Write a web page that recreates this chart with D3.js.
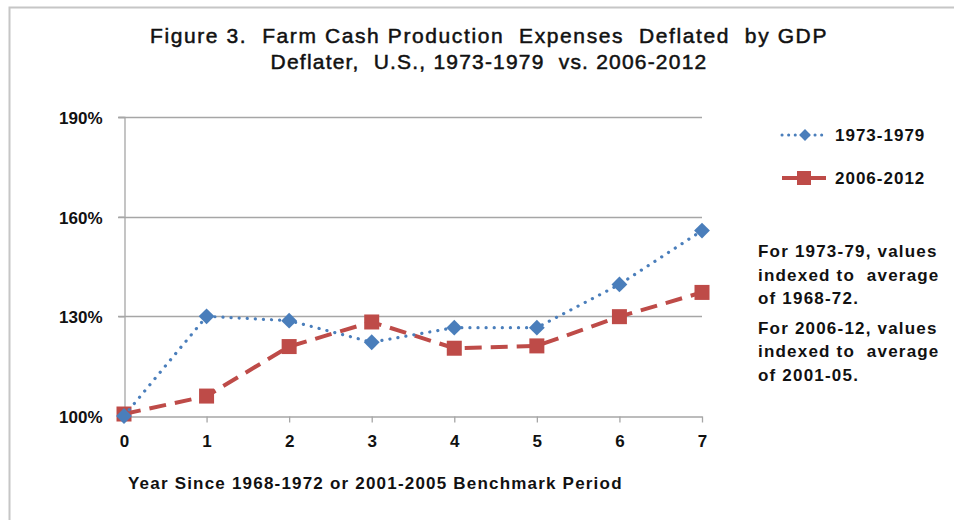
<!DOCTYPE html>
<html>
<head>
<meta charset="utf-8">
<script src="https://cdn.jsdelivr.net/npm/d3@7"></script>
<style>
  body { margin: 0; background: #fff; }
  text { font-family: Arial, "Liberation Sans", sans-serif; }
</style>
</head>
<body>
<div id="chart"></div>
<script>
// chart data
const years = [0, 1, 2, 3, 4, 5, 6, 7];
const early = [100, 130, 128.7, 122.2, 126.6, 126.6, 139.6, 155.8];   // 1973-1979
const late = [100.6, 106, 120.9, 128.3, 120.4, 121.1, 129.9, 137.2];  // 2006-2012
const yTicks = [100, 130, 160, 190];
const seriesNames = ["1973-1979", "2006-2012"];
const titleLines = ["Figure 3.  Farm Cash Production  Expenses  Deflated  by GDP",
                    "Deflater,  U.S., 1973-1979  vs. 2006-2012"];
const noteLines = ["For 1973-79, values", "indexed to  average", "of 1968-72.",
                   "For 2006-12, values", "indexed to  average", "of 2001-05."];

let width = 954, height = 520;
let margin = {left: 124, top: 117, right: 252, bottom: 104};

let svg = d3.select("#chart")
    .append("svg")
    .attr("width", width)
    .attr("height", height);

// outer frame (only top and left edges show)
svg.append("path")
    .attr("d", `M9.5,${height} V7.5 H${width}`)
    .attr("fill", "none")
    .attr("stroke", "#c6c6c6")
    .attr("stroke-width", 2);

// title
svg.append("g").selectAll("text")
    .data(titleLines)
    .enter()
    .append("text")
    .attr("x", 489)
    .attr("y", (d, i) => 43 + i * 26)
    .attr("text-anchor", "middle")
    .style("font-size", "21px")
    .style("letter-spacing", (d, i) => i == 0 ? "1.6px" : "1.2px")
    .style("white-space", "pre")
    .style("fill", "#111")
    .style("stroke", "#111")
    .style("stroke-width", 0.5)
    .text(d => d);

let x = d3.scaleLinear().domain([0, 7]).range([margin.left, width - margin.right]);
let y = d3.scaleLinear().domain([100, 190]).range([height - margin.bottom, margin.top]);

// horizontal gridlines
svg.append("g")
    .selectAll("line")
    .data(yTicks.slice(1))
    .enter()
    .append("line")
    .attr("x1", x(0) - 6)
    .attr("x2", x(7))
    .attr("y1", d => Math.round(y(d)) + 0.5)
    .attr("y2", d => Math.round(y(d)) + 0.5)
    .attr("stroke", "#a6a6a6")
    .attr("stroke-width", 1.3);

// y axis
let yAxis = svg.append("g")
    .attr("transform", `translate(${Math.round(x(0)) + 0.5},0)`)
    .call(d3.axisLeft(y).tickValues(yTicks).tickFormat(d => d + "%").tickSize(6).tickPadding(16));
yAxis.select(".domain").attr("stroke", "#a6a6a6").attr("stroke-width", 1.3);
yAxis.selectAll(".tick line").attr("stroke", "#a6a6a6").attr("stroke-width", 1.3);
yAxis.selectAll(".tick text")
    .attr("dy", "0.38em")
    .style("font-size", "17px")
    .style("font-weight", "bold")
    .style("font-family", "Arial, 'Liberation Sans', sans-serif")
    .attr("fill", "#111");

// x axis
let xAxis = svg.append("g")
    .attr("transform", `translate(0,${Math.round(y(100)) + 0.5})`)
    .call(d3.axisBottom(x).tickValues(years).tickFormat(d3.format("d")).tickSize(6).tickPadding(12).tickSizeOuter(0));
xAxis.select(".domain").attr("stroke", "#a6a6a6").attr("stroke-width", 1.3);
xAxis.selectAll(".tick line").attr("stroke", "#a6a6a6").attr("stroke-width", 1.3);
xAxis.selectAll(".tick text")
    .style("font-size", "17px")
    .style("font-weight", "bold")
    .style("font-family", "Arial, 'Liberation Sans', sans-serif")
    .attr("fill", "#111");

// x axis title
svg.append("text")
    .attr("x", 128)
    .attr("y", 489)
    .style("font-size", "17px")
    .style("font-weight", "bold")
    .style("letter-spacing", "1.2px")
    .style("fill", "#111")
    .text("Year Since 1968-1972 or 2001-2005 Benchmark Period");

let line = d3.line()
    .x((d, i) => x(years[i]))
    .y(d => y(d));

let blue = "#4a7ebb", red = "#be4b48";

// 2006-2012 series
svg.append("path")
    .datum(late)
    .attr("d", line)
    .attr("fill", "none")
    .attr("stroke", red)
    .attr("stroke-width", 4)
    .attr("stroke-dasharray", "17,9");

svg.append("g")
    .selectAll("rect")
    .data(late)
    .enter()
    .append("rect")
    .attr("x", (d, i) => x(years[i]) - 7.5)
    .attr("y", d => y(d) - 7.5)
    .attr("width", 15)
    .attr("height", 15)
    .attr("fill", red);

// 1973-1979 series
svg.append("path")
    .datum(early)
    .attr("d", line)
    .attr("fill", "none")
    .attr("stroke", blue)
    .attr("stroke-width", 3.2)
    .attr("stroke-linecap", "round")
    .attr("stroke-dasharray", "0.1,8");

svg.append("g")
    .selectAll("path")
    .data(early)
    .enter()
    .append("path")
    .attr("transform", (d, i) => `translate(${x(years[i])},${y(d)}) rotate(45)`)
    .attr("d", d3.symbol().type(d3.symbolSquare).size(125))
    .attr("fill", blue);

// legend
let legend = svg.append("g");
let legendY = [135, 178];

legend.append("line")
    .attr("x1", 782).attr("x2", 826)
    .attr("y1", legendY[0]).attr("y2", legendY[0])
    .attr("stroke", blue).attr("stroke-width", 3)
    .attr("stroke-linecap", "round")
    .attr("stroke-dasharray", "0.1,6.5");
legend.append("path")
    .attr("transform", `translate(805,${legendY[0]}) rotate(45)`)
    .attr("d", d3.symbol().type(d3.symbolSquare).size(70))
    .attr("fill", blue);

legend.append("line")
    .attr("x1", 782).attr("x2", 826)
    .attr("y1", legendY[1]).attr("y2", legendY[1])
    .attr("stroke", red).attr("stroke-width", 4);
legend.append("rect")
    .attr("x", 797).attr("y", legendY[1] - 7)
    .attr("width", 14).attr("height", 14)
    .attr("fill", red);

legend.selectAll("text")
    .data(seriesNames)
    .enter()
    .append("text")
    .attr("x", 835)
    .attr("y", (d, i) => legendY[i] + 6)
    .style("font-size", "17px")
    .style("font-weight", "bold")
    .style("letter-spacing", "1px")
    .style("fill", "#111")
    .text(d => d);

// note on indexing
svg.append("g").selectAll("text")
    .data(noteLines)
    .enter()
    .append("text")
    .attr("x", 758)
    .attr("y", (d, i) => 257 + i * 23.5 + (i >= 3 ? 6 : 0))
    .style("font-size", "17px")
    .style("font-weight", "bold")
    .style("letter-spacing", "1.2px")
    .style("white-space", "pre")
    .style("fill", "#111")
    .text(d => d);
</script>
</body>
</html>
